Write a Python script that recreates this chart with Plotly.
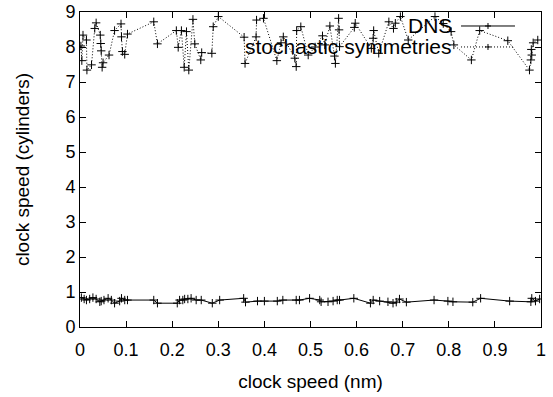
import plotly.graph_objects as go

# DNS series
dns_x = [0.003, 0.009, 0.014, 0.021, 0.028, 0.035, 0.043, 0.046, 0.052, 0.061,
         0.068, 0.075, 0.086, 0.090, 0.097, 0.103, 0.160, 0.168, 0.211, 0.216,
         0.223, 0.227, 0.234, 0.241, 0.252, 0.263, 0.287, 0.303, 0.355, 0.359,
         0.385, 0.400, 0.428, 0.440, 0.469, 0.476, 0.498, 0.520, 0.523, 0.538,
         0.549, 0.558, 0.563, 0.594, 0.630, 0.636, 0.650, 0.668, 0.679, 0.686,
         0.693, 0.708, 0.768, 0.798, 0.809, 0.852, 0.869, 0.932, 0.978, 0.980,
         0.988, 0.997]
dns_y = [0.84, 0.80, 0.77, 0.80, 0.84, 0.80, 0.72, 0.74, 0.77, 0.82,
         0.77, 0.68, 0.74, 0.82, 0.77, 0.77, 0.77, 0.68, 0.68, 0.77,
         0.77, 0.80, 0.80, 0.82, 0.77, 0.77, 0.68, 0.77, 0.82, 0.71,
         0.74, 0.74, 0.74, 0.77, 0.77, 0.77, 0.82, 0.77, 0.72, 0.72,
         0.74, 0.77, 0.77, 0.82, 0.68, 0.77, 0.74, 0.72, 0.68, 0.71,
         0.80, 0.71, 0.77, 0.74, 0.72, 0.71, 0.82, 0.74, 0.72, 0.82,
         0.74, 0.80]

# stochastic symmetries series
sto_x = [0.002, 0.004, 0.0065, 0.014, 0.015, 0.025, 0.032, 0.035, 0.044, 0.045,
         0.046, 0.048, 0.050, 0.063, 0.075, 0.089, 0.090, 0.092, 0.097, 0.103,
         0.160, 0.168, 0.209, 0.213, 0.220, 0.226, 0.231, 0.236, 0.245, 0.249,
         0.262, 0.264, 0.286, 0.289, 0.300, 0.356, 0.358, 0.382, 0.383, 0.398,
         0.427, 0.436, 0.441, 0.466, 0.469, 0.470, 0.479, 0.495, 0.510, 0.526,
         0.531, 0.542, 0.552, 0.554, 0.561, 0.562, 0.563, 0.595, 0.597, 0.632,
         0.636, 0.637, 0.648, 0.670, 0.680, 0.684, 0.695, 0.712, 0.770, 0.788,
         0.805, 0.811, 0.849, 0.867, 0.928, 0.975, 0.978, 0.979, 0.980, 0.983,
         0.993]
sto_y = [8.03, 7.61, 8.34, 8.20, 7.34, 7.49, 8.53, 8.69, 8.34, 8.10,
         7.89, 7.42, 7.55, 7.77, 8.47, 8.66, 8.29, 7.87, 7.79, 8.37,
         8.72, 8.09, 8.47, 7.99, 8.47, 7.42, 8.44, 7.34, 8.79, 8.09,
         7.63, 7.84, 7.82, 8.58, 8.87, 8.28, 7.53, 8.29, 8.77, 8.82,
         7.61, 8.12, 8.29, 7.68, 7.44, 8.47, 8.58, 7.77, 8.00, 8.32,
         8.06, 8.60, 7.74, 7.53, 8.82, 8.49, 8.01, 8.56, 8.68, 7.96,
         8.25, 8.47, 7.82, 8.72, 8.53, 8.68, 8.87, 8.20, 8.87, 8.67,
         8.44, 8.06, 7.63, 8.47, 8.18, 7.34, 7.63, 7.93, 7.77, 8.12,
         8.20]

x_ticks = [0, 0.1, 0.2, 0.3, 0.4, 0.5, 0.6, 0.7, 0.8, 0.9, 1]
y_ticks = [0, 1, 2, 3, 4, 5, 6, 7, 8, 9]
series_names = ["DNS", "stochastic symmetries"]

FONT = "Liberation Sans, Arial, sans-serif"
DOT = "1px,2px"

fig = go.Figure()
fig.add_trace(go.Scatter(
    x=dns_x, y=dns_y, mode="lines+markers", name=series_names[0],
    line=dict(color="black", width=1),
    marker=dict(symbol="cross-thin", size=6, line=dict(color="black", width=1)),
    showlegend=False))
fig.add_trace(go.Scatter(
    x=sto_x, y=sto_y, mode="lines+markers", name=series_names[1],
    line=dict(color="black", width=1, dash=DOT),
    marker=dict(symbol="cross-thin", size=6, line=dict(color="black", width=1)),
    showlegend=False))

# gnuplot-style legend (text right-aligned, sample on the right)
leg_rows = [(0.9556, "solid"), (0.889, DOT)]
shapes = []
annotations = []
for (yp, dash), name in zip(leg_rows, series_names):
    annotations.append(dict(xref="paper", yref="paper", x=0.812, y=yp, text=name,
                            showarrow=False, xanchor="right", yanchor="middle",
                            font=dict(family=FONT, size=21, color="black")))
    shapes.append(dict(type="line", xref="paper", yref="paper", x0=0.8265, x1=0.9436,
                       y0=yp, y1=yp, line=dict(color="black", width=1, dash=dash)))
    shapes.append(dict(type="line", xref="paper", yref="paper", x0=0.885 - 0.0065,
                       x1=0.885 + 0.0065, y0=yp, y1=yp, line=dict(color="black", width=1)))
    shapes.append(dict(type="line", xref="paper", yref="paper", x0=0.885, x1=0.885,
                       y0=yp - 0.0095, y1=yp + 0.0095, line=dict(color="black", width=1)))

fig.update_layout(
    width=553, height=397,
    margin=dict(l=80, r=12, t=12, b=70),
    paper_bgcolor="white", plot_bgcolor="white",
    font=dict(family=FONT, size=18, color="black"),
    shapes=shapes, annotations=annotations,
    showlegend=False,
)
fig.update_xaxes(
    range=[0, 1], tickvals=x_ticks, ticktext=[str(v) for v in x_ticks],
    ticks="inside", ticklen=6, tickcolor="black", showline=True, linecolor="black",
    linewidth=1, mirror="ticks", showgrid=False, zeroline=False, automargin=False,
    tickfont=dict(family=FONT, size=18, color="black"), ticklabelstandoff=6,
    title=dict(text="clock speed (nm)", font=dict(family=FONT, size=19, color="black"), standoff=16),
)
fig.update_yaxes(
    range=[0, 9], tickvals=y_ticks, automargin=False,
    ticks="inside", ticklen=6, tickcolor="black", showline=True, linecolor="black",
    linewidth=1, mirror="ticks", showgrid=False, zeroline=False,
    tickfont=dict(family=FONT, size=18, color="black"),
    title=dict(text="clock speed (cylinders)", font=dict(family=FONT, size=19, color="black"), standoff=30),
)

fig.write_html("out.html", config={"displayModeBar": False},
               post_script="document.body.style.margin='0';")
